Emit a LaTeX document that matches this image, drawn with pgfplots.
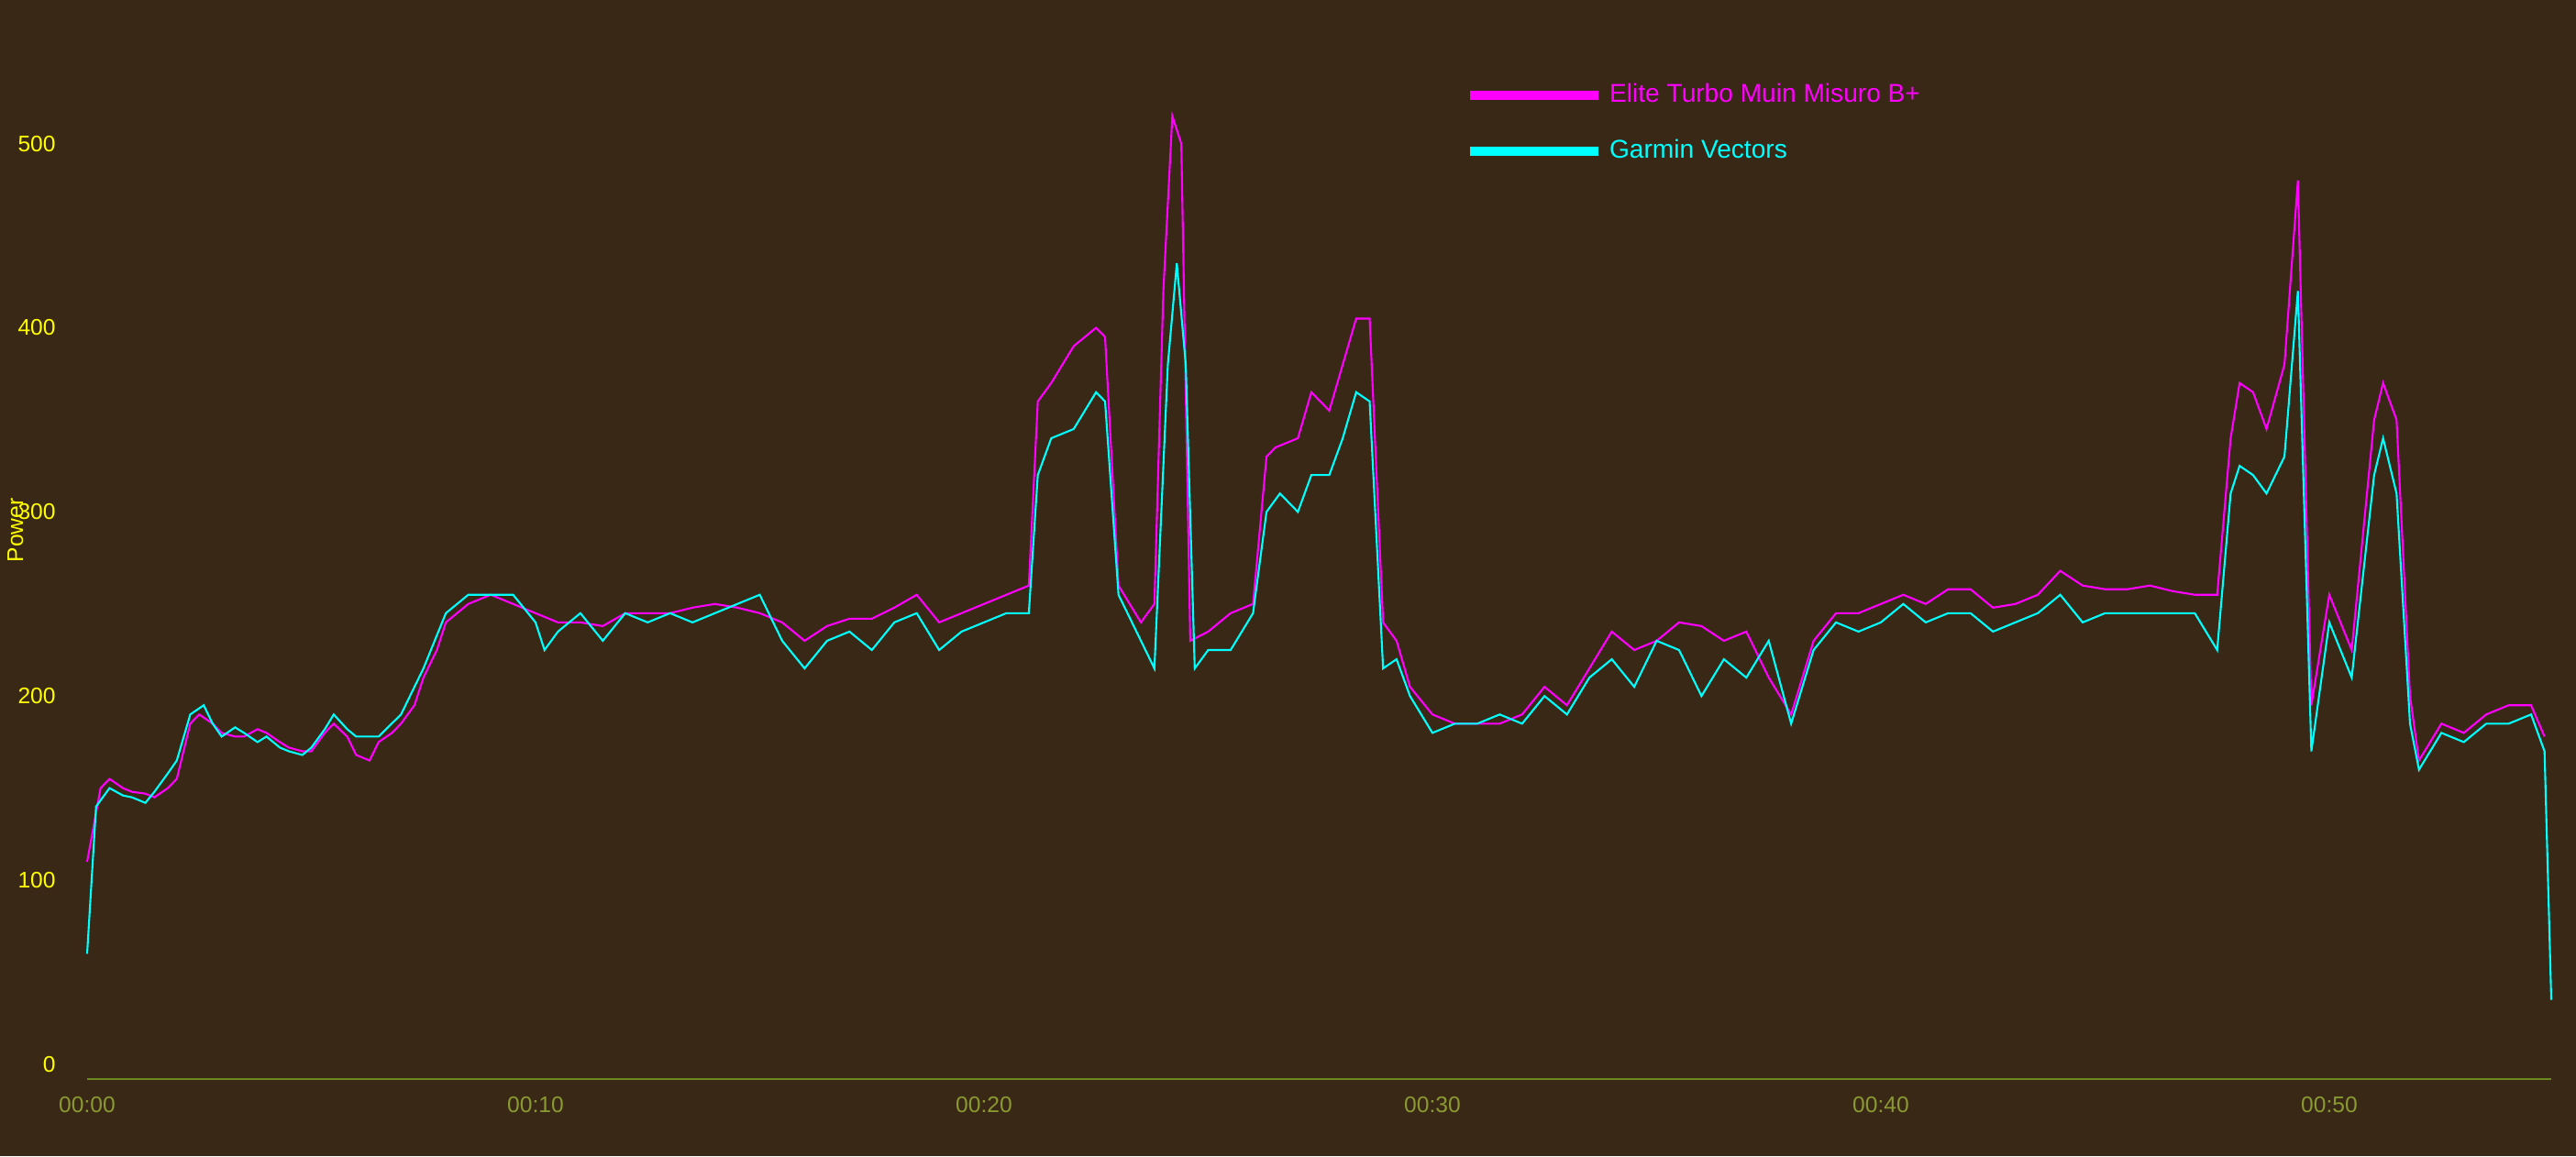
\documentclass[border=0pt]{standalone}
\usepackage{pgfplots}
\pgfplotsset{compat=1.18}
\usepackage{fontspec}
\setmainfont{Liberation Sans}
\definecolor{bg}{HTML}{3A2817}
\definecolor{mag}{HTML}{FF00FF}
\definecolor{cy}{HTML}{00FFFF}
\definecolor{yl}{HTML}{FFFF00}
\definecolor{ol}{HTML}{8A9A30}
\definecolor{axl}{HTML}{6A8A20}
\begin{document}
\begin{tikzpicture}
\fill[bg] (0,0) rectangle (28.09,12.61);
\path[use as bounding box] (0,0) rectangle (28.09,12.61);
\begin{axis}[at={(0.95cm,0.84cm)},anchor=south west,scale only axis,
 width=26.87cm,height=11.77cm,xmin=0,xmax=54.95,ymin=-8,ymax=578,
 axis x line=bottom, axis y line=none, axis line style={axl,-},
 xtick={0,10,20,30,40,50},xticklabels={00:00,00:10,00:20,00:30,00:40,00:50},
 major tick length=0pt,
 xticklabel style={ol,font=\fontsize{7}{8}\selectfont,yshift=-2pt},
 clip=false,
 legend style={draw=none,fill=none,at={(0.555,0.935)},anchor=north west,
   font=\fontsize{8}{9}\selectfont,row sep=6pt,/tikz/every even column/.append style={column sep=0.3cm}},
 legend image code/.code={\draw[line width=3pt] (0cm,0cm) -- (1.4cm,0cm);},
 legend cell align=left]
\addplot[mag,line width=0.6pt] coordinates {(0,110)(0.3,150)(0.5,155)(0.8,150)(1,148)(1.3,147)(1.5,145)(1.8,150)(2,155)(2.3,185)(2.5,190)(2.8,185)(3,180)(3.3,178)(3.5,178)(3.8,182)(4,180)(4.3,175)(4.5,172)(4.8,170)(5,170)(5.3,180)(5.5,185)(5.8,178)(6,168)(6.3,165)(6.5,175)(6.8,180)(7,185)(7.3,195)(7.5,210)(7.8,225)(8,240)(8.5,250)(9,255)(9.5,250)(10,245)(10.5,240)(11,240)(11.5,238)(12,245)(12.5,245)(13,245)(13.5,248)(14,250)(14.5,248)(15,245)(15.5,240)(16,230)(16.5,238)(17,242)(17.5,242)(18,248)(18.5,255)(19,240)(19.5,245)(20,250)(20.5,255)(21,260)(21.2,360)(21.5,370)(22,390)(22.5,400)(22.7,395)(23,260)(23.5,240)(23.8,250)(24,420)(24.2,515)(24.4,500)(24.6,230)(25,235)(25.5,245)(26,250)(26.3,330)(26.5,335)(27,340)(27.3,365)(27.7,355)(28,380)(28.3,405)(28.6,405)(28.9,240)(29.2,230)(29.5,205)(30,190)(30.5,185)(31,185)(31.5,185)(32,190)(32.5,205)(33,195)(33.5,215)(34,235)(34.5,225)(35,230)(35.5,240)(36,238)(36.5,230)(37,235)(37.5,210)(38,190)(38.5,230)(39,245)(39.5,245)(40,250)(40.5,255)(41,250)(41.5,258)(42,258)(42.5,248)(43,250)(43.5,255)(44,268)(44.5,260)(45,258)(45.5,258)(46,260)(46.5,257)(47,255)(47.5,255)(47.8,340)(48,370)(48.3,365)(48.6,345)(49,380)(49.3,480)(49.6,195)(50,255)(50.5,225)(51,350)(51.2,370)(51.5,350)(51.8,200)(52,165)(52.5,185)(53,180)(53.5,190)(54,195)(54.5,195)(54.8,178)};
\addlegendentry{\textcolor{mag}{Elite Turbo Muin Misuro B+}}
\addplot[cy,line width=0.6pt] coordinates {(0,60)(0.2,140)(0.5,150)(0.8,146)(1,145)(1.3,142)(1.5,148)(1.8,158)(2,165)(2.3,190)(2.6,195)(2.8,185)(3,178)(3.3,183)(3.5,180)(3.8,175)(4,178)(4.3,172)(4.5,170)(4.8,168)(5,172)(5.3,182)(5.5,190)(5.8,182)(6,178)(6.5,178)(7,190)(7.5,215)(8,245)(8.5,255)(9,255)(9.5,255)(10,240)(10.2,225)(10.5,235)(11,245)(11.5,230)(12,245)(12.5,240)(13,245)(13.5,240)(14,245)(14.5,250)(15,255)(15.5,230)(16,215)(16.5,230)(17,235)(17.5,225)(18,240)(18.5,245)(19,225)(19.5,235)(20,240)(20.5,245)(21,245)(21.2,320)(21.5,340)(22,345)(22.5,365)(22.7,360)(23,255)(23.5,230)(23.8,215)(24.1,380)(24.3,435)(24.5,380)(24.7,215)(25,225)(25.5,225)(26,245)(26.3,300)(26.6,310)(27,300)(27.3,320)(27.7,320)(28,340)(28.3,365)(28.6,360)(28.9,215)(29.2,220)(29.5,200)(30,180)(30.5,185)(31,185)(31.5,190)(32,185)(32.5,200)(33,190)(33.5,210)(34,220)(34.5,205)(35,230)(35.5,225)(36,200)(36.5,220)(37,210)(37.5,230)(38,185)(38.5,225)(39,240)(39.5,235)(40,240)(40.5,250)(41,240)(41.5,245)(42,245)(42.5,235)(43,240)(43.5,245)(44,255)(44.5,240)(45,245)(45.5,245)(46,245)(46.5,245)(47,245)(47.5,225)(47.8,310)(48,325)(48.3,320)(48.6,310)(49,330)(49.3,420)(49.6,170)(50,240)(50.5,210)(51,320)(51.2,340)(51.5,310)(51.8,185)(52,160)(52.5,180)(53,175)(53.5,185)(54,185)(54.5,190)(54.8,170)(54.95,35)};
\addlegendentry{\textcolor{cy}{Garmin Vectors}}
\node[anchor=east,yl,font=\fontsize{7}{8}\selectfont] at (axis cs:-0.45,0) {0};
\node[anchor=east,yl,font=\fontsize{7}{8}\selectfont] at (axis cs:-0.45,100) {100};
\node[anchor=east,yl,font=\fontsize{7}{8}\selectfont] at (axis cs:-0.45,200) {200};
\node[anchor=east,yl,font=\fontsize{7}{8}\selectfont] at (axis cs:-0.45,300) {300};
\node[anchor=east,yl,font=\fontsize{7}{8}\selectfont] at (axis cs:-0.45,400) {400};
\node[anchor=east,yl,font=\fontsize{7}{8}\selectfont] at (axis cs:-0.45,500) {500};
\node[rotate=90,yl,font=\fontsize{7}{8}\selectfont] at (axis cs:-1.6,290) {Power};
\end{axis}
\end{tikzpicture}
\end{document}
